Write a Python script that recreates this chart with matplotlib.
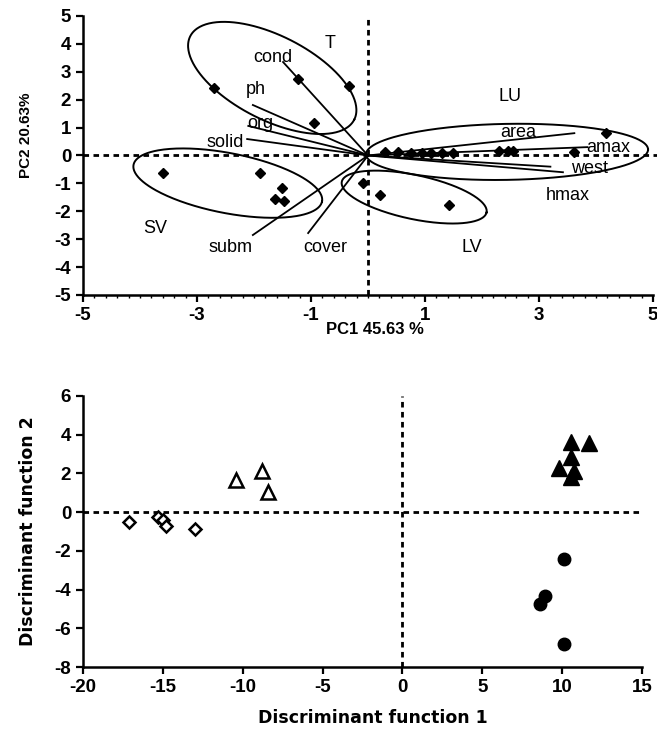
import numpy as np
import matplotlib
matplotlib.use('Agg')
import matplotlib.pyplot as plt

plt.rcParams['font.family'] = ['Liberation Sans', 'DejaVu Sans']
plt.rcParams['axes.unicode_minus'] = False

# PCA scores (top panel)
pc_x = [-2.70, -1.23, -0.95, -0.33,
        -3.60, -1.89, -1.51, -1.63, -1.47,
        -0.09, 0.21, 1.42,
        4.18, 3.61, 0.30, 0.52, 0.75, 0.95, 1.10, 1.30, 1.50, 2.30, 2.45, 2.55]
pc_y = [2.42, 2.74, 1.17, 2.49,
        -0.62, -0.63, -1.16, -1.57, -1.64,
        -0.98, -1.41, -1.77,
        0.80, 0.13, 0.12, 0.12, 0.10, 0.10, 0.08, 0.08, 0.08, 0.15, 0.15, 0.15]

# variable loadings (end of each vector)
var_names = ['cond', 'ph', 'org', 'solid', 'subm', 'cover', 'area', 'amax', 'west', 'hmax']
var_x = [-1.49, -2.02, -2.10, -2.12, -2.02, -1.05, 3.62, 3.85, 3.42, 3.20]
var_y = [3.35, 1.81, 1.06, 0.59, -2.85, -2.78, 0.80, 0.30, -0.60, -0.40]

# label text and where it sits
lab_text = ['T', 'cond', 'ph', 'org', 'solid', 'SV', 'subm', 'cover', 'LV', 'LU',
            'area', 'amax', 'west', 'hmax']
lab_x = [-0.67, -1.67, -1.96, -1.89, -2.50, -3.74, -2.42, -0.75, 1.82, 2.49,
         2.63, 4.21, 3.89, 3.51]
lab_y = [4.03, 3.53, 2.35, 1.16, 0.45, -2.60, -3.28, -3.28, -3.28, 2.10,
         0.84, 0.27, -0.45, -1.42]

# group ellipses: centre (data), semi axes (px), angle (deg, on screen)
ell_cx = [-1.68, -2.46, 0.81, 2.44]
ell_cy = [2.78, -0.99, -1.49, 0.13]
ell_a = [92, 96, 74, 141]
ell_b = [42, 30, 22, 28]
ell_ang = [-27, -11, -12, 1]

# discriminant scores (bottom panel)
open_dia_x = [-17.1, -15.3, -15.0, -14.8, -13.0]
open_dia_y = [-0.50, -0.25, -0.40, -0.72, -0.88]
open_tri_x = [-10.4, -8.8, -8.4]
open_tri_y = [1.65, 2.15, 1.03]
fill_tri_x = [10.55, 11.7, 10.55, 9.8, 10.75, 10.55]
fill_tri_y = [3.60, 3.55, 2.85, 2.30, 2.15, 1.80]
fill_cir_x = [10.1, 8.95, 8.6, 10.1]
fill_cir_y = [-2.4, -4.35, -4.75, -6.8]

W, H = 657, 733
fig = plt.figure(figsize=(W / 100, H / 100), dpi=100)
ax1 = fig.add_axes([83 / W, 1 - 295 / H, 570 / W, 279 / H])
ax2 = fig.add_axes([83 / W, 1 - 667 / H, 559 / W, 271 / H])

dash = (0, (2, 1.6))


def style(ax):
    for s in ['top', 'right']:
        ax.spines[s].set_visible(False)
    for s in ['left', 'bottom']:
        ax.spines[s].set_linewidth(1.8)
    ax.tick_params(which='major', direction='out', length=5, width=1.6, labelsize=13.5)
    for t in ax.get_xticklabels() + ax.get_yticklabels():
        t.set_fontweight('bold')


# ---- top: PCA biplot
ax1.set_xlim(-5, 5)
ax1.set_ylim(-5, 5)
ax1.axhline(0, color='k', lw=2, ls=dash, clip_on=False, xmax=1.01)
ax1.axvline(0, color='k', lw=2, ls=dash)

sx = 570 / 10.0
sy = 279 / 10.0
t = np.linspace(0, 2 * np.pi, 300)
for cx, cy, a, b, ang in zip(ell_cx, ell_cy, ell_a, ell_b, ell_ang):
    th = np.radians(ang)
    ex = a * np.cos(t) * np.cos(th) - b * np.sin(t) * np.sin(th)
    ey = a * np.cos(t) * np.sin(th) + b * np.sin(t) * np.cos(th)
    ax1.plot(cx + ex / sx, cy + ey / sy, color='k', lw=1.4)

for vx, vy in zip(var_x, var_y):
    ax1.plot([0, vx], [0, vy], color='k', lw=1.3)

ax1.plot(pc_x, pc_y, ls='none', marker='D', ms=5.5, color='k')

for s, x, y in zip(lab_text, lab_x, lab_y):
    ax1.text(x, y, s, fontsize=13, ha='center', va='center')

ax1.set_xticks([-5, -3, -1, 1, 3, 5])
ax1.set_xticks(np.arange(-5, 5.01, 0.2), minor=True)
ax1.set_yticks(range(-5, 6))
ax1.tick_params(which='minor', axis='x', direction='out', length=2, width=1)
style(ax1)
ax1.set_xlabel('PC1 45.63 %', fontsize=12, fontweight='bold', va='center')
ax1.xaxis.set_label_coords(0.512, -0.125)
ax1.set_ylabel('PC2 20.63%', fontsize=11, fontweight='bold', va='center')
ax1.yaxis.set_label_coords(-0.1, 0.572)

# ---- bottom: discriminant functions
ax2.set_xlim(-20, 15)
ax2.set_ylim(-8, 6)
ax2.axhline(0, color='k', lw=2, ls=dash)
ax2.axvline(0, color='k', lw=2, ls=dash)
ax2.plot(open_dia_x, open_dia_y, ls='none', marker='D', ms=6, mfc='white', mec='k', mew=1.8)
ax2.plot(open_tri_x, open_tri_y, ls='none', marker='^', ms=10, mfc='white', mec='k', mew=1.8)
ax2.plot(fill_tri_x, fill_tri_y, ls='none', marker='^', ms=11, color='k')
ax2.plot(fill_cir_x, fill_cir_y, ls='none', marker='o', ms=9, color='k')
ax2.set_xticks(range(-20, 16, 5))
ax2.set_yticks(range(-8, 7, 2))
style(ax2)
ax2.set_xlabel('Discriminant function 1', fontsize=12.5, fontweight='bold',
               family='DejaVu Sans', va='center')
ax2.xaxis.set_label_coords(0.519, -0.188)
ax2.set_ylabel('Discriminant function 2', fontsize=12.5, fontweight='bold',
               family='DejaVu Sans', va='center')
ax2.yaxis.set_label_coords(-0.098, 0.5)

fig.savefig('out.png', dpi=100)
